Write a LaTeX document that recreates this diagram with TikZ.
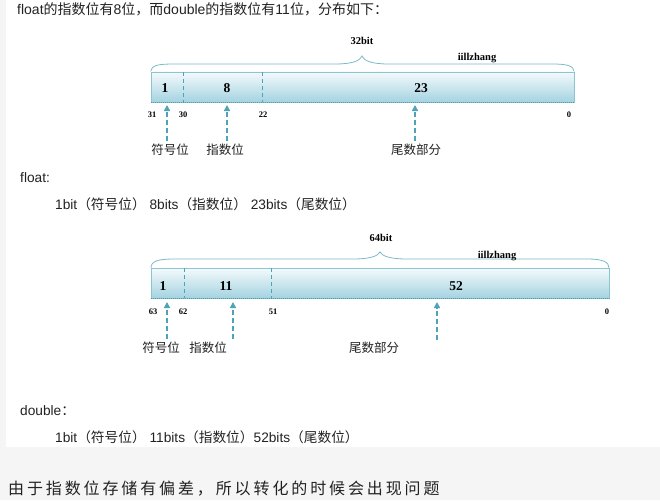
\documentclass[tikz,border=0pt]{standalone}
\usepackage{fontspec}
\setmainfont{Liberation Sans}
\newfontfamily\cjk{Noto Sans CJK SC}
\newfontfamily\cjkwide[LetterSpace=18]{Noto Sans CJK SC}
\newfontfamily\tnr{Liberation Serif}
\usetikzlibrary{arrows.meta}
\newcommand\zh[1]{{\cjk #1}}
\definecolor{arrowc}{HTML}{4FA3B6}
\definecolor{bracec}{HTML}{7DBAC8}
\definecolor{boxtop}{HTML}{F4FAFC}
\definecolor{boxbot}{HTML}{A4D3E1}
\definecolor{boxedge}{HTML}{8CC4D2}
\definecolor{boxdark}{HTML}{5E98A8}
\definecolor{pagegray}{HTML}{F5F5F5}
\definecolor{txt}{HTML}{222222}
\begin{document}
\begin{tikzpicture}[x=1pt,y=-1pt,
  bitbox/.style={shade, top color=boxtop, bottom color=boxbot, draw=boxedge, line width=0.6pt, inner sep=0pt},
  divider/.style={draw=arrowc, line width=0.6pt, dash pattern=on 4pt off 3pt},
  braceline/.style={draw=bracec, line width=0.8pt},
  bottomdots/.style={draw=boxdark, line width=1pt, dash pattern=on 1pt off 1pt},
  dasharrow/.style={draw=arrowc, line width=1.6pt, dash pattern=on 5pt off 3pt, -{Triangle[width=6pt,length=6pt]}},
  boxnum/.style={font=\tnr\bfseries\fontsize{13.5}{13.5}\selectfont, inner sep=0pt},
  bitnum/.style={font=\tnr\bfseries\fontsize{8.5}{8.5}\selectfont, inner sep=0pt},
  toplab/.style={font=\tnr\bfseries\fontsize{10.5}{10.5}\selectfont, inner sep=0pt},
  partlab/.style={font=\cjk\fontsize{12.5}{12.5}\selectfont, inner sep=0pt, text=txt},
  body/.style={font=\fontsize{13.7}{14}\selectfont, inner sep=0pt, anchor=base west, text=txt}]
\useasboundingbox (0,0) rectangle (660,500);
\fill[pagegray] (0,0) rectangle (660,500);
\fill[white] (6,0) rectangle (660,447);

% ---------- line 1 ----------
\node[body, font=\fontsize{14}{14}\selectfont] (t1) at (17,15) {float\zh{的指数位有}8\zh{位，而}double\zh{的指数位有}11\zh{位，分布如下：}};

% ---------- float diagram ----------
\draw[braceline] (151,72) .. controls (151,65) and (158,64) .. (175,64) -- (335,64)
  .. controls (352,64) and (360,61) .. (362,56) .. controls (364,61) and (372,64) .. (389,64)
  -- (552,64) .. controls (568,64) and (574,66) .. (574,72);
\node[toplab] (w1) at (362,41) {32bit};
\node[toplab] (s1) at (477,58) {iillzhang};
\node[bitbox, minimum width=423pt, minimum height=30pt] (box1) at (362.5,87) {};
\draw[bottomdots] (box1.south west) -- (box1.south east);
\coordinate (d1a) at (183,72); \coordinate (d1b) at (183,102);
\coordinate (d2a) at (262,72); \coordinate (d2b) at (262,102);
\draw[divider] (d1a) -- (d1b);
\draw[divider] (d2a) -- (d2b);
\node[boxnum] (f1) at (165,88) {1};
\node[boxnum] (f8) at (227,88) {8};
\node[boxnum] (f23) at (421,88) {23};
\node[bitnum] (b31) at (152,115) {31};
\node[bitnum] (b30) at (183,115) {30};
\node[bitnum] (b22) at (263,115) {22};
\node[bitnum] (b0) at (569,115) {0};
\coordinate (fa1s) at (167,141); \coordinate (fa1t) at (167,105);
\coordinate (fa2s) at (227,141); \coordinate (fa2t) at (227,105);
\coordinate (fa3s) at (415,141); \coordinate (fa3t) at (415,105);
\draw[dasharrow] (fa1s) -- (fa1t);
\draw[dasharrow] (fa2s) -- (fa2t);
\draw[dasharrow] (fa3s) -- (fa3t);
\node[partlab] (fl1) at (170,150) {符号位};
\node[partlab] (fl2) at (225,150) {指数位};
\node[partlab] (fl3) at (416,150) {尾数部分};

% ---------- float text ----------
\node[body] (ft) at (20,182) {float:};
\node[body] (fd) at (55,209) {1bit\zh{（符号位）} 8bits\zh{（指数位）} 23bits\zh{（尾数位）}};

% ---------- double diagram ----------
\draw[braceline] (151,268) .. controls (151,261) and (158,259) .. (175,259) -- (353,259)
  .. controls (370,259) and (378,256) .. (380,252) .. controls (382,256) and (390,259) .. (407,259)
  -- (587,259) .. controls (603,259) and (609,262) .. (609,268);
\node[toplab] (w2) at (381,238) {64bit};
\node[toplab] (s2) at (497,256) {iillzhang};
\node[bitbox, minimum width=458pt, minimum height=30pt] (box2) at (380,283) {};
\draw[bottomdots] (box2.south west) -- (box2.south east);
\coordinate (e1a) at (184,268); \coordinate (e1b) at (184,298);
\coordinate (e2a) at (271,268); \coordinate (e2b) at (271,298);
\draw[divider] (e1a) -- (e1b);
\draw[divider] (e2a) -- (e2b);
\node[boxnum] (g1) at (163,286) {1};
\node[boxnum] (g11) at (226,286) {11};
\node[boxnum] (g52) at (456,286) {52};
\node[bitnum] (c63) at (153,312) {63};
\node[bitnum] (c62) at (183,312) {62};
\node[bitnum] (c51) at (273,312) {51};
\node[bitnum] (c0) at (607,312) {0};
\coordinate (ga1s) at (167,339); \coordinate (ga1t) at (167,302);
\coordinate (ga2s) at (233,339); \coordinate (ga2t) at (233,302);
\coordinate (ga3s) at (437,340); \coordinate (ga3t) at (437,302);
\draw[dasharrow] (ga1s) -- (ga1t);
\draw[dasharrow] (ga2s) -- (ga2t);
\draw[dasharrow] (ga3s) -- (ga3t);
\node[partlab] (gl1) at (161,348) {符号位};
\node[partlab] (gl2) at (208,348) {指数位};
\node[partlab] (gl3) at (374,348) {尾数部分};

% ---------- double text ----------
\node[body] (dt) at (20,415) {double\zh{：}};
\node[body] (dd) at (55,442) {1bit\zh{（符号位）} 11bits\zh{（指数位）}52bits\zh{（尾数位）}};

% ---------- bottom sentence ----------
\node[inner sep=0pt, anchor=base west, text=txt, font=\cjkwide\fontsize{16}{16}\selectfont] (conc) at (8,494) {由于指数位存储有偏差，所以转化的时候会出现问题};
\end{tikzpicture}
\end{document}
